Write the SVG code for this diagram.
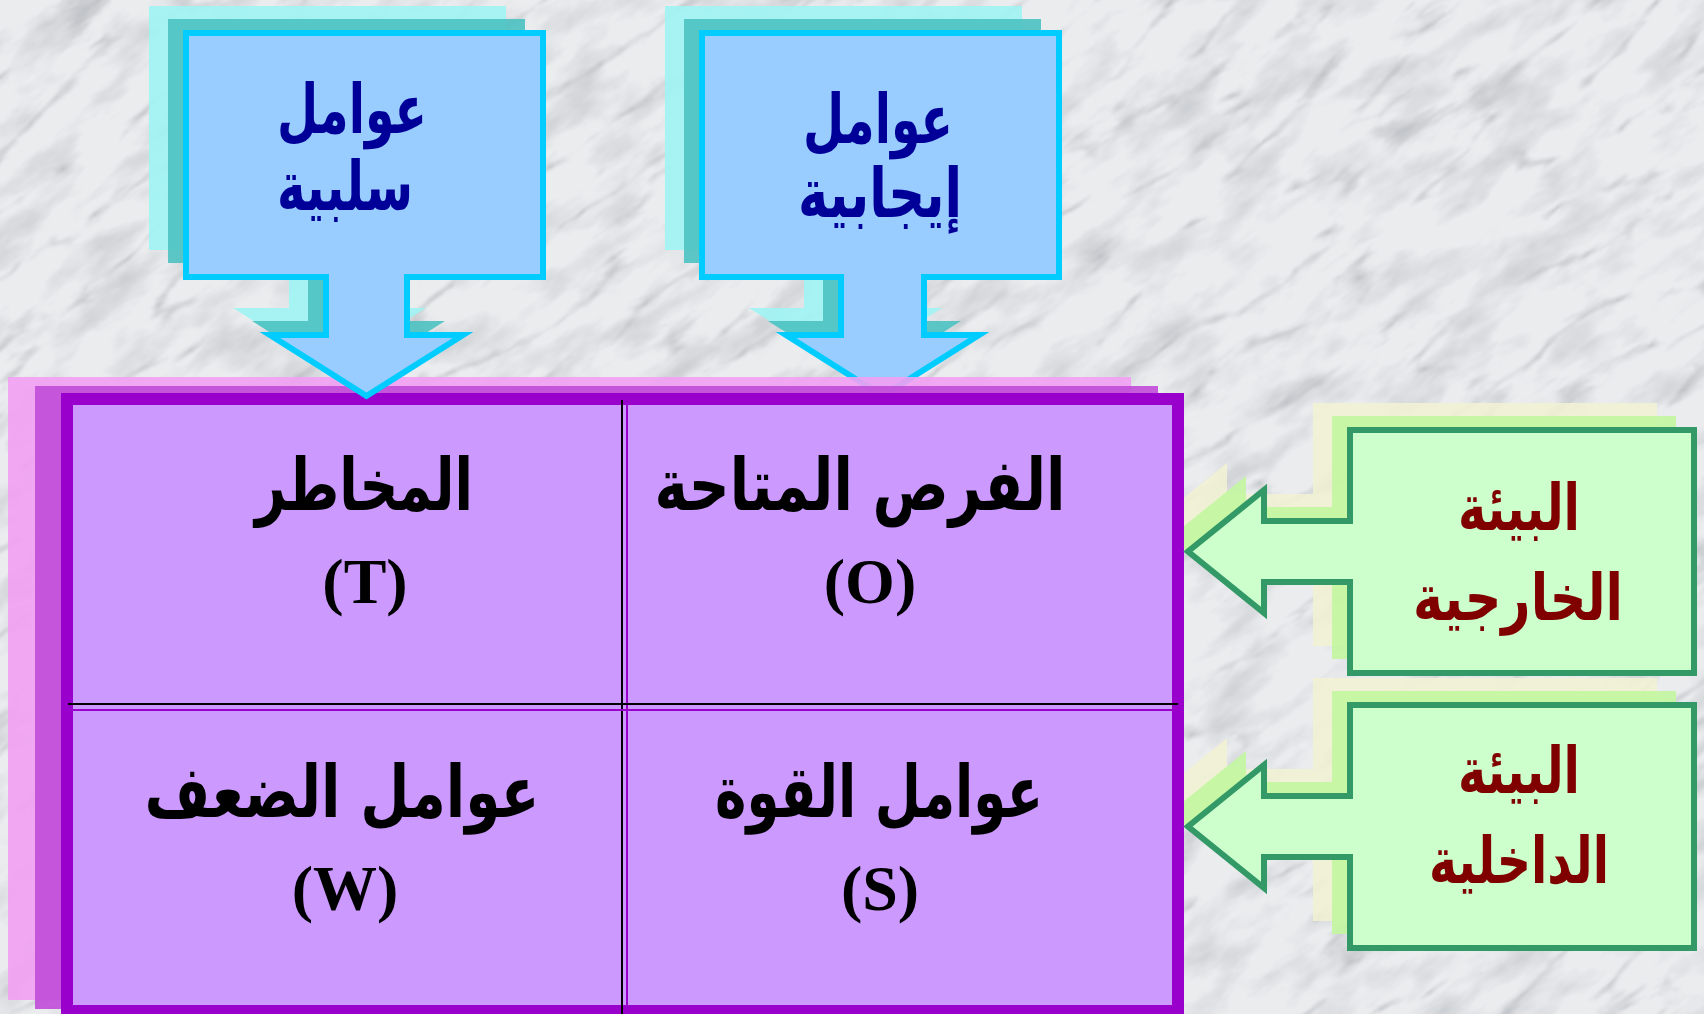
<svg xmlns="http://www.w3.org/2000/svg" width="1704" height="1014" viewBox="0 0 1704 1014">
<defs>
<style>
.bluebox{fill:#99CCFF;stroke:#00CCFF;stroke-width:6;stroke-linejoin:miter}
.blueshA{fill:#4CC2C2;fill-opacity:0.9}
.blueshB{fill:#A0F4F4;fill-opacity:0.9}
.greenbox{fill:#CCFFCC;stroke:#339966;stroke-width:6;stroke-linejoin:miter}
.greenshA{fill:#C2F6A0;fill-opacity:0.9}
.greenshB{fill:#F2F2D2;fill-opacity:0.85}
.ar{font-family:"DejaVu Sans",sans-serif;font-weight:bold;text-anchor:middle}
.lat{font-family:"Liberation Serif","Times New Roman",serif;font-weight:bold;text-anchor:middle;font-size:64px;fill:#000}
.blue{fill:#000099;font-size:68px}
.red{fill:#800000;font-size:64px}
.blk{fill:#000;font-size:72px}
</style>
<filter id="mottle" x="0" y="0" width="1" height="1">
<feTurbulence type="fractalNoise" baseFrequency="0.012 0.028" numOctaves="4" seed="5"/>
<feColorMatrix type="matrix" values="0 0 0 0 0.52  0 0 0 0 0.54  0 0 0 0 0.57  1.7 0 0 0 -0.78"/>
</filter>
<filter id="marble" x="0" y="0" width="1" height="1">
<feTurbulence type="turbulence" baseFrequency="0.005 0.018" numOctaves="5" seed="11"/>
<feColorMatrix type="matrix" values="0 0 0 0 0.40  0 0 0 0 0.42  0 0 0 0 0.45  -3.2 0 0 0 0.62"/>
<feGaussianBlur stdDeviation="0.8"/>
</filter>
<path id="blueShape1" d="M186,33 H543 V277 H407 V335 H463 L366.5,396 L270,335 H326 V277 H186 Z"/>
<path id="blueShape2" d="M702,33 H1059 V277 H924 V335 H979 L882.5,396 L786,335 H841 V277 H702 Z"/>
<path id="greenShape1" d="M1350,430 H1694 V673 H1350 V582 H1264 V613 L1188,551.5 L1264,490 V521 H1350 Z"/>
<path id="greenShape2" d="M1350,705 H1694 V948 H1350 V857 H1264 V888 L1188,826.5 L1264,765 V796 H1350 Z"/>
</defs>

<g id="background">
<rect x="0" y="0" width="1704" height="1014" fill="#EAECEE"/>
<g transform="rotate(-35 852 507)">
<rect x="-700" y="-700" width="3100" height="2400" fill="#fff" filter="url(#mottle)"/>
<rect x="-700" y="-700" width="3100" height="2400" fill="#fff" filter="url(#marble)"/>
</g>
</g>

<g id="shadows">
<use href="#blueShape1" class="blueshB" transform="translate(-37,-27)"/>
<use href="#blueShape1" class="blueshA" transform="translate(-18,-14)"/>
<use href="#blueShape2" class="blueshB" transform="translate(-37,-27)"/>
<use href="#blueShape2" class="blueshA" transform="translate(-18,-14)"/>
<use href="#greenShape1" class="greenshB" transform="translate(-37,-27)"/>
<use href="#greenShape1" class="greenshA" transform="translate(-18,-14)"/>
<use href="#greenShape2" class="greenshB" transform="translate(-37,-27)"/>
<use href="#greenShape2" class="greenshA" transform="translate(-18,-14)"/>
</g>

<g id="node-positive">
<use href="#blueShape2" class="bluebox"/>
<text class="ar blue" x="878" y="143" textLength="150" lengthAdjust="spacingAndGlyphs">عوامل</text>
<text class="ar blue" x="880" y="217" textLength="164" lengthAdjust="spacingAndGlyphs">إيجابية</text>
</g>

<g id="node-swot">
<rect x="8" y="377" width="1123" height="623" fill="#F2A0F2" fill-opacity="0.9"/>
<rect x="35" y="386" width="1123" height="623" fill="#C04CD8" fill-opacity="0.9"/>
<rect x="67" y="399" width="1111" height="612" fill="#CC99FF" stroke="#9900CC" stroke-width="12"/>
<line x1="622" y1="400" x2="622" y2="1014" stroke="#000" stroke-width="2"/>
<line x1="627" y1="405" x2="627" y2="1005" stroke="#9900CC" stroke-width="2"/>
<line x1="68" y1="704" x2="1178" y2="704" stroke="#000" stroke-width="2"/>
<line x1="73" y1="710" x2="1172" y2="710" stroke="#9900CC" stroke-width="2"/>
</g>

<g id="node-threats">
<text class="ar blk" x="364" y="510" textLength="218" lengthAdjust="spacingAndGlyphs">المخاطر</text>
<text class="lat" x="365" y="603">(T)</text>
</g>
<g id="node-opportunities">
<text class="ar blk" x="860" y="510" textLength="411" lengthAdjust="spacingAndGlyphs">الفرص المتاحة</text>
<text class="lat" x="870" y="603">(O)</text>
</g>
<g id="node-weaknesses">
<text class="ar blk" x="342" y="817" textLength="395" lengthAdjust="spacingAndGlyphs">عوامل الضعف</text>
<text class="lat" x="345" y="910">(W)</text>
</g>
<g id="node-strengths">
<text class="ar blk" x="879" y="817" textLength="328" lengthAdjust="spacingAndGlyphs">عوامل القوة</text>
<text class="lat" x="880" y="910">(S)</text>
</g>

<g id="node-negative">
<use href="#blueShape1" class="bluebox"/>
<text class="ar blue" x="352" y="133" textLength="150" lengthAdjust="spacingAndGlyphs">عوامل</text>
<text class="ar blue" x="345" y="210" textLength="136" lengthAdjust="spacingAndGlyphs">سلبية</text>
</g>

<g id="node-external">
<use href="#greenShape1" class="greenbox"/>
<text class="ar red" x="1519" y="530" textLength="122" lengthAdjust="spacingAndGlyphs">البيئة</text>
<text class="ar red" x="1518" y="620" textLength="210" lengthAdjust="spacingAndGlyphs">الخارجية</text>
</g>

<g id="node-internal">
<use href="#greenShape2" class="greenbox"/>
<text class="ar red" x="1519" y="793" textLength="122" lengthAdjust="spacingAndGlyphs">البيئة</text>
<text class="ar red" x="1519" y="883" textLength="180" lengthAdjust="spacingAndGlyphs">الداخلية</text>
</g>

<g id="connectors"></g>
</svg>
